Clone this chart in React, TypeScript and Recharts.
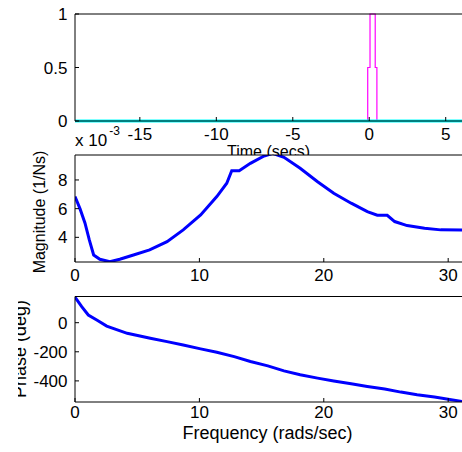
import React from 'react';
import { LineChart, Line, XAxis, YAxis, CartesianGrid } from 'recharts';

// top panel: impulse input (time axis is x 10^-3 s)
const pulseTime = [-19.24, -0.1, -0.1, 0.05, 0.05, 0.39, 0.39, 0.5, 0.5, 6.3];
const pulseValue = [0, 0, 0.5, 0.5, 1, 1, 0.5, 0.5, 0, 0];
const baseTime = [-19.24, 6.3];
const baseValue = [0, 0];

// middle panel: magnitude
const magFreq = [0, 0.4, 0.8, 1.15, 1.5, 2.0, 2.8, 3.6, 4.7, 6.0, 7.4, 8.7, 10.1, 11.4, 12.2, 12.6, 13.2, 14.1, 15.2, 15.9, 16.8, 18.1, 19.5, 20.8, 22.2, 23.5, 24.3, 25.1, 25.7, 26.7, 28.1, 29.4, 31.4];
const magnitude = [6.84, 6.0, 5.0, 3.82, 2.77, 2.47, 2.3, 2.47, 2.77, 3.12, 3.7, 4.52, 5.56, 6.84, 7.77, 8.65, 8.65, 9.16, 9.67, 9.85, 9.58, 8.82, 7.88, 7.07, 6.38, 5.79, 5.54, 5.54, 5.1, 4.82, 4.63, 4.52, 4.5];

// bottom panel: phase
const phaseFreq = [0, 0.54, 1.07, 1.75, 2.55, 4.2, 6.05, 7.4, 8.7, 10.1, 11.4, 12.8, 14.1, 15.5, 16.8, 18.1, 19.5, 20.8, 22.2, 23.5, 24.9, 26.2, 27.5, 28.9, 31.4];
const phase = [176, 110, 53, 18, -23, -73, -107, -130, -153, -180, -203, -233, -267, -297, -331, -358, -381, -400, -420, -438, -456, -477, -495, -511, -545];

const timeTicks = [-15, -10, -5, 0, 5];
const ampTicks = [0, 0.5, 1];
const freqTicks = [0, 10, 20, 30];
const magTicks = [4, 6, 8];
const phaseTicks = [-400, -200, 0];

const pulseData = pulseTime.map((t, i) => ({ t, v: pulseValue[i] }));
const baseData = baseTime.map((t, i) => ({ t, v: baseValue[i] }));
const magData = magFreq.map((f, i) => ({ f, v: magnitude[i] }));
const phaseData = phaseFreq.map((f, i) => ({ f, v: phase[i] }));

const FONT = '"Liberation Sans", Arial, Helvetica, sans-serif';
const W = 470;
const H = 452;
const TICK = { fill: '#000', fontSize: 17, fontFamily: FONT };
const TIME_DOMAIN: [number, number] = [-19.24, 6.3];
const FREQ_DOMAIN: [number, number] = [0, 31.4];
const MAG_DOMAIN: [number, number] = [2.28, 9.74];
const PHASE_DOMAIN: [number, number] = [-545, 180];

const layer: React.CSSProperties = { position: 'absolute', left: 0, top: 0 };

const TimeLabel = () => (
  <g fontFamily={FONT} fill="#000">
    <text x={75} y={145.5} fontSize={17}>
      x 10<tspan dx={2} dy={-11} fontSize={12}>-3</tspan>
    </text>
    <text x={268.5} y={157} fontSize={16} textAnchor="middle">Time (secs)</text>
  </g>
);

const MagLabel = () => (
  <text transform="translate(45,212) rotate(-90)" textAnchor="middle" fontSize={16} fontFamily={FONT} fill="#000">
    Magnitude (1/Ns)
  </text>
);

// the phase label is cut off on its left side in the original figure
const PhaseLabel = () => (
  <g>
    <defs>
      <clipPath id="phaseClip">
        <rect x={18} y={280} width={40} height={140} />
      </clipPath>
    </defs>
    <g clipPath="url(#phaseClip)">
      <text transform="translate(26,349) rotate(-90)" textAnchor="middle" fontSize={18} fontFamily={FONT} fill="#000">
        Phase (deg)
      </text>
    </g>
  </g>
);

const FreqLabel = () => (
  <text x={267.5} y={439} textAnchor="middle" fontSize={18} fontFamily={FONT} fill="#000">
    Frequency (rads/sec)
  </text>
);

const TimePanel = () => (
  <LineChart width={W} height={H} margin={{ top: 13, right: 3.4, bottom: 330, left: 0 }}>
    <XAxis dataKey="t" type="number" domain={TIME_DOMAIN} ticks={timeTicks} interval={0} allowDataOverflow height={1}
      tickSize={-4} tickMargin={10.5} tick={TICK} stroke="#000" label={{ content: () => <TimeLabel /> }} />
    <XAxis xAxisId="top" orientation="top" type="number" domain={TIME_DOMAIN} ticks={timeTicks} interval={0} allowDataOverflow
      height={1} tickSize={-4} tick={false} stroke="#000" />
    <YAxis type="number" domain={[0, 1]} ticks={ampTicks} interval={0} width={75} tickSize={-4} tickMargin={11.5} tick={TICK} stroke="#000" />
    <YAxis yAxisId="r" orientation="right" type="number" domain={[0, 1]} ticks={ampTicks} interval={0} width={1} tickSize={-4} tick={false} stroke="#000" />
    <Line data={pulseData} dataKey="v" type="linear" stroke="#ff00ff" strokeWidth={1.2} dot={false} isAnimationActive={false} />
    <Line data={baseData} dataKey="v" type="linear" stroke="#00ffff" strokeWidth={3} dot={false} isAnimationActive={false} />
  </LineChart>
);

const MagPanel = () => (
  <LineChart width={W} height={H} margin={{ top: 154, right: 3.4, bottom: 189, left: 0 }}>
    <CartesianGrid horizontal={false} vertical={false} fill="#ffffff" fillOpacity={1} />
    <XAxis dataKey="f" type="number" domain={FREQ_DOMAIN} ticks={freqTicks} interval={0} allowDataOverflow height={1}
      tickSize={-4} tickMargin={10.5} tick={TICK} stroke="#000" />
    <XAxis xAxisId="top" orientation="top" type="number" domain={FREQ_DOMAIN} ticks={freqTicks} interval={0} allowDataOverflow
      height={1} tickSize={-4} tick={false} stroke="#000" />
    <YAxis type="number" domain={MAG_DOMAIN} ticks={magTicks} interval={0} allowDataOverflow width={75} tickSize={-4} tickMargin={11.5}
      tick={TICK} stroke="#000" label={{ content: () => <MagLabel /> }} />
    <YAxis yAxisId="r" orientation="right" type="number" domain={MAG_DOMAIN} ticks={magTicks} interval={0} allowDataOverflow width={1}
      tickSize={-4} tick={false} stroke="#000" />
    <Line data={magData} dataKey="v" type="linear" stroke="#0000ff" strokeWidth={3} dot={false} isAnimationActive={false} />
  </LineChart>
);

const PhasePanel = () => (
  <LineChart width={W} height={H} margin={{ top: 295.5, right: 3.4, bottom: 49, left: 0 }}>
    <CartesianGrid horizontal={false} vertical={false} fill="#ffffff" fillOpacity={1} />
    <XAxis dataKey="f" type="number" domain={FREQ_DOMAIN} ticks={freqTicks} interval={0} allowDataOverflow height={1}
      tickSize={-4} tickMargin={7.5} tick={TICK} stroke="#000" label={{ content: () => <FreqLabel /> }} />
    <XAxis xAxisId="top" orientation="top" type="number" domain={FREQ_DOMAIN} ticks={freqTicks} interval={0} allowDataOverflow
      height={1} tickSize={-4} tick={false} stroke="#000" />
    <YAxis type="number" domain={PHASE_DOMAIN} ticks={phaseTicks} interval={0} allowDataOverflow width={75} tickSize={-4} tickMargin={11.5}
      tick={TICK} stroke="#000" label={{ content: () => <PhaseLabel /> }} />
    <YAxis yAxisId="r" orientation="right" type="number" domain={PHASE_DOMAIN} ticks={phaseTicks} interval={0} allowDataOverflow width={1}
      tickSize={-4} tick={false} stroke="#000" />
    <Line data={phaseData} dataKey="v" type="linear" stroke="#0000ff" strokeWidth={3} dot={false} isAnimationActive={false} />
  </LineChart>
);

export default function App() {
  return (
    <div style={{ position: 'absolute', left: 0, top: 0, width: 462, height: 452, overflow: 'hidden', background: '#fff' }}>
      <div style={layer}><TimePanel /></div>
      <div style={layer}><MagPanel /></div>
      <div style={layer}><PhasePanel /></div>
    </div>
  );
}
